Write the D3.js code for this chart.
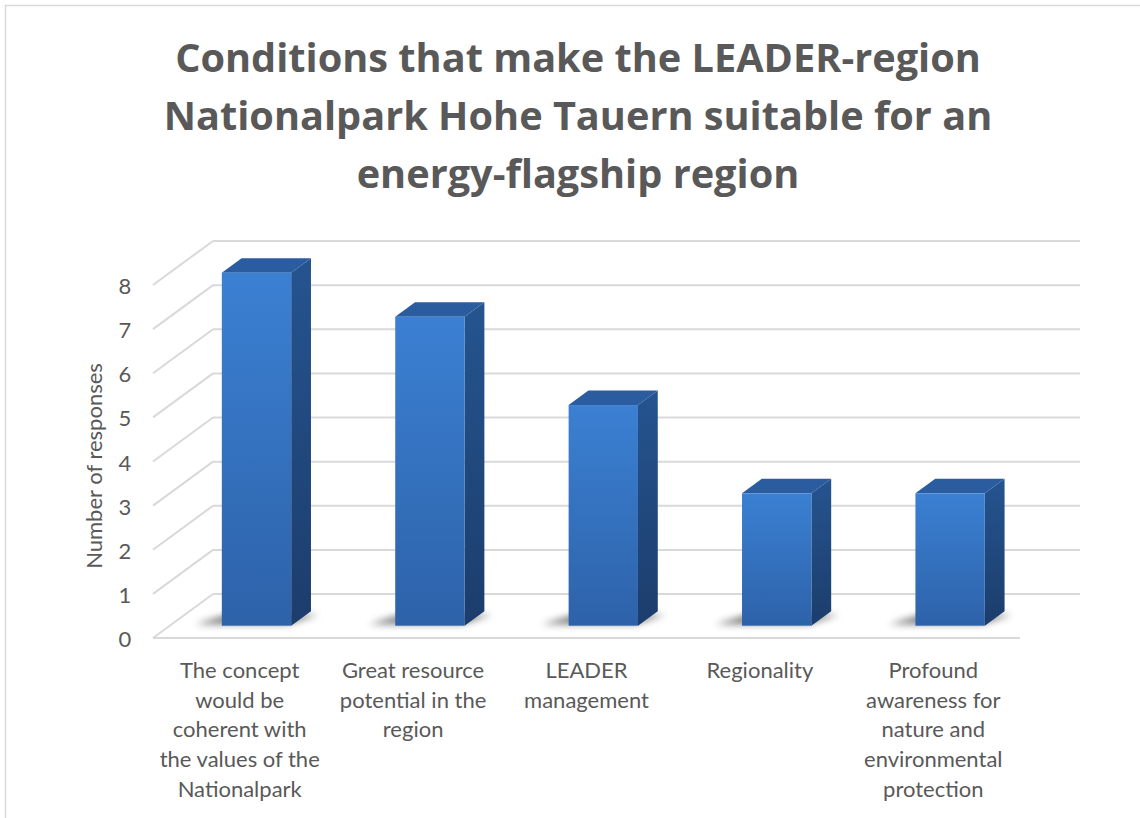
<!DOCTYPE html>
<html>
<head>
<meta charset="utf-8">
<script src="https://cdn.jsdelivr.net/npm/d3@7"></script>
<style>
  body { margin: 0; background: #fff; }
  svg { display: block; }
</style>
</head>
<body>
<div id="chart"></div>
<script>
// chart data
var titleLines = [
    "Conditions that make the LEADER-region",
    "Nationalpark Hohe Tauern suitable for an",
    "energy-flagship region"
];
var categories = [
    ["The concept", "would be", "coherent with", "the values of the", "Nationalpark"],
    ["Great resource", "potential in the", "region"],
    ["LEADER", "management"],
    ["Regionality"],
    ["Profound", "awareness for", "nature and", "environmental", "protection"]
];
var responses = [8, 7, 5, 3, 3];
var yTicks = [0, 1, 2, 3, 4, 5, 6, 7, 8];
var yTitle = "Number of responses";

var W = 1140, H = 818;
var textColor = "#595959";
var gridColor = "#d9d9d9";
var font = "Lato, 'Open Sans', sans-serif";

// depth vector of the 3d box (front plane -> back wall)
var depth = {dx: 60, dy: -44};
var barDepth = [0.28, 0.61];

var x = d3.scaleBand()
    .domain(d3.range(categories.length))
    .range([153, 1020])
    .paddingInner(0.6)
    .paddingOuter(0.3);

var y = d3.scaleLinear()
    .domain([0, 8])
    .range([638, 285]);

// project a point in plane coords at depth d (0 front, 1 back)
function proj(px, v, d) {
    return [px + d * depth.dx, y(v) + d * depth.dy];
}
function poly(pts) {
    return pts.map(p => p.join(",")).join(" ");
}

var svg = d3.select("#chart").append("svg")
    .attr("width", W)
    .attr("height", H);

var defs = svg.append("defs");
var gFront = defs.append("linearGradient").attr("id", "gFront")
    .attr("x1", 0).attr("y1", 0).attr("x2", 0).attr("y2", 1);
gFront.append("stop").attr("offset", "0%").attr("stop-color", "#3b80d3");
gFront.append("stop").attr("offset", "100%").attr("stop-color", "#2d62a9");
var gSide = defs.append("linearGradient").attr("id", "gSide")
    .attr("x1", 0).attr("y1", 0).attr("x2", 0).attr("y2", 1);
gSide.append("stop").attr("offset", "0%").attr("stop-color", "#25548f");
gSide.append("stop").attr("offset", "100%").attr("stop-color", "#1c3d6c");
defs.append("filter").attr("id", "blur")
    .attr("x", "-50%").attr("y", "-200%").attr("width", "200%").attr("height", "500%")
    .append("feGaussianBlur").attr("stdDeviation", 3.5);

// outer frame (only top and left edges show)
svg.append("rect")
    .attr("x", 5.5).attr("y", 5.5)
    .attr("width", W + 20).attr("height", H + 20)
    .attr("fill", "none")
    .attr("stroke", gridColor)
    .attr("stroke-width", 1.5);

// title
var title = svg.append("g").attr("class", "title");
title.selectAll("text")
    .data(titleLines)
    .enter()
    .append("text")
    .attr("x", 578)
    .attr("y", (d, i) => 72 + i * 58)
    .attr("text-anchor", "middle")
    .attr("font-family", "'Open Sans', sans-serif")
    .attr("font-weight", "bold")
    .attr("font-size", 40)
    .attr("fill", textColor)
    .text(d => d);
// fit the first line to the reference width
var w0 = title.select("text").node().getComputedTextLength();
title.selectAll("text").attr("font-size", 40 * 806 / w0);

// grid: back wall lines and left wall diagonals
var grid = svg.append("g").attr("class", "grid");
var x0 = x.range()[0], x1 = x.range()[1];
grid.selectAll("line.back")
    .data(yTicks)
    .enter()
    .append("line")
    .attr("class", "back")
    .attr("x1", d => proj(x0, d, 1)[0])
    .attr("x2", d => proj(x1, d, 1)[0])
    .attr("y1", d => proj(x0, d, 1)[1])
    .attr("y2", d => proj(x1, d, 1)[1])
    .attr("stroke", gridColor)
    .attr("stroke-width", 2);
grid.selectAll("line.side")
    .data(yTicks)
    .enter()
    .append("line")
    .attr("class", "side")
    .attr("x1", d => proj(x0, d, 0)[0])
    .attr("x2", d => proj(x0, d, 1)[0])
    .attr("y1", d => proj(x0, d, 0)[1])
    .attr("y2", d => proj(x0, d, 1)[1])
    .attr("stroke", gridColor)
    .attr("stroke-width", 2);
// floor front edge
grid.append("line")
    .attr("x1", proj(x0, 0, 0)[0]).attr("y1", proj(x0, 0, 0)[1])
    .attr("x2", proj(x1, 0, 0)[0]).attr("y2", proj(x1, 0, 0)[1])
    .attr("stroke", gridColor)
    .attr("stroke-width", 2);

// y tick labels
svg.append("g").selectAll("text")
    .data(yTicks)
    .enter()
    .append("text")
    .attr("x", 125)
    .attr("y", d => y(d) + 9)
    .attr("text-anchor", "middle")
    .attr("font-family", font)
    .attr("font-size", 22)
    .attr("fill", textColor)
    .text(d => d);

// y axis title
svg.append("text")
    .attr("transform", "translate(102,466) rotate(-90)")
    .attr("text-anchor", "middle")
    .attr("font-family", font)
    .attr("font-size", 22)
    .attr("fill", textColor)
    .text(yTitle);

// bars
var bars = svg.append("g").attr("class", "bars")
    .selectAll("g")
    .data(responses)
    .enter()
    .append("g");

bars.each(function(v, i) {
    var g = d3.select(this);
    var bx0 = x(i), bx1 = x(i) + x.bandwidth();
    var d0 = barDepth[0], d1 = barDepth[1];

    // soft floor shadow to the left of the base
    g.append("polygon")
        .attr("points", poly([
            proj(bx0 - 28, 0, d0 + 0.03), proj(bx1 - 5, 0, d0 + 0.03),
            proj(bx1 + 12, 0, d1 - 0.08), proj(bx0 - 10, 0, d1 - 0.08)
        ]))
        .attr("fill", "#4a4a4a")
        .attr("opacity", 0.7)
        .attr("filter", "url(#blur)");

    // side face
    g.append("polygon")
        .attr("points", poly([
            proj(bx1, 0, d0), proj(bx1, v, d0),
            proj(bx1, v, d1), proj(bx1, 0, d1)
        ]))
        .attr("fill", "url(#gSide)");

    // top face
    g.append("polygon")
        .attr("points", poly([
            proj(bx0, v, d0), proj(bx1, v, d0),
            proj(bx1, v, d1), proj(bx0, v, d1)
        ]))
        .attr("fill", "#2a5c9f");

    // front face
    var p = proj(bx0, v, d0), q = proj(bx1, 0, d0);
    g.append("rect")
        .attr("x", p[0])
        .attr("y", p[1])
        .attr("width", q[0] - p[0])
        .attr("height", q[1] - p[1])
        .attr("fill", "url(#gFront)");
});

// category labels
var labels = svg.append("g").attr("class", "cat-labels")
    .selectAll("text")
    .data(categories)
    .enter()
    .append("text")
    .attr("text-anchor", "middle")
    .attr("font-family", font)
    .attr("font-size", 22)
    .attr("fill", textColor);
labels.each(function(lines, i) {
    var t = d3.select(this);
    var cx = x(i) + x.bandwidth() / 2;
    lines.forEach(function(line, j) {
        t.append("tspan")
            .attr("x", cx)
            .attr("y", 678 + j * 29.7)
            .text(line);
    });
});
</script>
</body>
</html>
